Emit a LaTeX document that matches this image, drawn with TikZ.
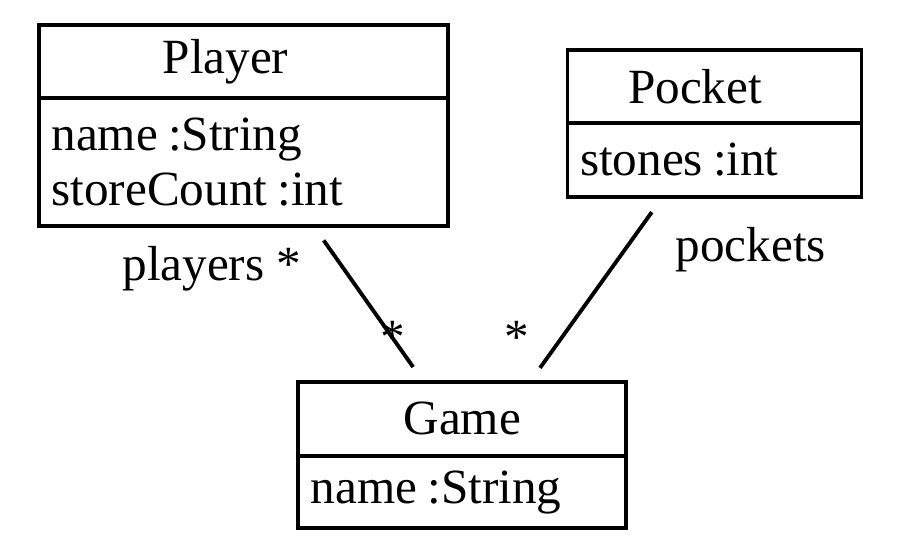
\documentclass[tikz,border=0pt]{standalone}
\usepackage{fontspec}
\setmainfont{Liberation Serif}
\usetikzlibrary{positioning,calc}

\newcommand{\attrib}[2]{#1\kern0.1cm:#2}

\tikzset{
  classe/.style={draw, line width=1.1pt, outer sep=0pt, inner sep=0pt, anchor=north west},
  attributi/.style={draw, line width=1.1pt, outer sep=0pt, inner xsep=0.125cm, inner ysep=0pt, align=left},
  assoc/.style={line width=1.1pt},
  ruolo/.style={inner sep=0pt}
}

\begin{document}
\begin{tikzpicture}[font=\fontsize{14}{15.6}\selectfont]
			\useasboundingbox (0,0) rectangle (9,-5.57);
			% classe Player
			\node[classe, minimum width=4.09cm, minimum height=0.727cm] (player) at (0.39,-0.25) {Player\kern0.36cm};
			\node[attributi, below=0pt of player, text width=3.84cm, minimum height=1.28cm] (playerattr) {\attrib{name}{String}\\\attrib{storeCount}{int}};
			% classe Pocket
			\node[classe, minimum width=2.94cm, minimum height=0.733cm] (pocket) at (5.675,-0.50) {Pocket\kern0.39cm};
			\node[attributi, below=0pt of pocket, text width=2.69cm, minimum height=0.734cm] (pocketattr) {\attrib{stones}{int}};
			% classe Game
			\node[classe, minimum width=3.28cm, minimum height=0.743cm] (game) at (2.983,-3.817) {Game};
			\node[attributi, below=0pt of game, text width=3.03cm, minimum height=0.723cm] (gameattr) {\attrib{name}{String}};
			% associazioni
			\draw[assoc, shorten <=0.18cm, shorten >=0.18cm] ($(playerattr.south west)+(2.743,0)$) -- ($(game.north west)+(1.252,0)$);
			\draw[assoc, shorten <=0.19cm, shorten >=0.17cm] ($(pocketattr.south west)+(0.954,0)$) -- ($(game.north west)+(2.318,0)$);
			% ruoli e molteplicita
			\node[ruolo, anchor=base west] (playersrole) at (1.217,-2.80) {players *};
			\node[ruolo, anchor=base] (playersmult) at (3.93,-3.535) {*};
			\node[ruolo, anchor=base west] (pocketsrole) at (6.75,-2.617) {pockets};
			\node[ruolo, anchor=base] (pocketsmult) at (5.17,-3.53) {*};
		\end{tikzpicture}
\end{document}
